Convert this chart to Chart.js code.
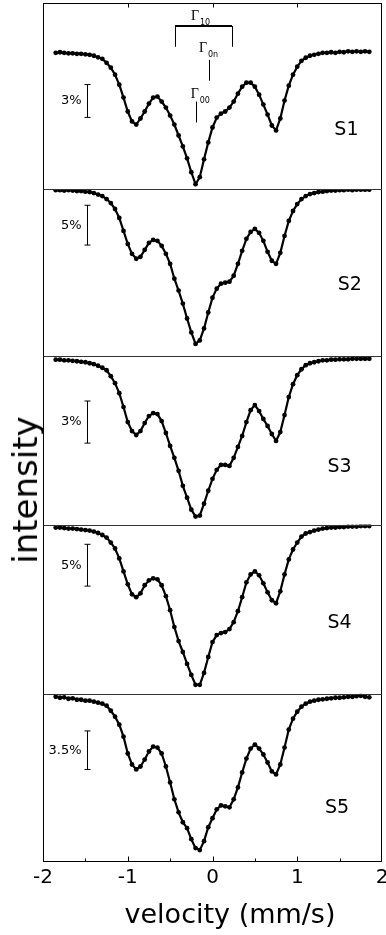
<!DOCTYPE html>
<html><head><meta charset="utf-8">
<script src="https://cdn.jsdelivr.net/npm/chart.js@4.4.1/dist/chart.umd.min.js"></script>
<style>
html,body{margin:0;padding:0;background:#fff;overflow:hidden}
#wrap{position:relative;width:386px;height:935px}
#c{position:absolute;left:0;top:0}
.t{position:absolute;font-family:'DejaVu Sans';color:#000;white-space:nowrap;line-height:1}
#ylab{left:25px;top:489.5px;font-size:34px;transform:translate(-50%,-50%) rotate(-90deg)}
#xlab{left:230px;top:900px;font-size:27px;transform:translateX(-50%)}
</style></head><body>
<div id="wrap"><canvas id="c" width="386" height="935"></canvas>
<div class="t" id="ylab">intensity</div><div class="t" id="xlab">velocity (mm/s)</div></div>
<script>
// ---- data (relative transmission, %) ----
const velocity = [-1.85,-1.8,-1.75,-1.7,-1.65,-1.6,-1.55,-1.5,-1.45,-1.4,-1.35,-1.3,-1.25,-1.2,-1.15,-1.1,-1.05,-1,-0.95,-0.9,-0.85,-0.8,-0.75,-0.7,-0.65,-0.6,-0.55,-0.5,-0.45,-0.4,-0.35,-0.3,-0.25,-0.2,-0.15,-0.1,-0.05,0,0.05,0.1,0.15,0.2,0.25,0.3,0.35,0.4,0.45,0.5,0.55,0.6,0.65,0.7,0.75,0.8,0.85,0.9,0.95,1,1.05,1.1,1.15,1.2,1.25,1.3,1.35,1.4,1.45,1.5,1.55,1.6,1.65,1.7,1.75,1.8,1.85];
const s1 = [100.0,100.05,100.0,99.95,99.95,99.91,99.91,99.86,99.82,99.73,
 99.59,99.45,99.09,98.64,98.0,97.09,95.91,94.64,93.73,93.45,
 94.0,94.64,95.36,95.91,96.0,95.55,95.0,94.27,93.45,92.45,
 91.45,90.36,89.09,88.0,88.64,90.27,91.82,93.18,94.09,94.45,
 94.64,95.0,95.55,96.27,96.91,97.27,97.27,96.91,96.18,95.27,
 94.36,93.36,92.91,94.0,95.64,97.0,98.0,98.73,99.27,99.55,
 99.73,99.82,99.91,100.0,100.0,100.05,100.0,100.09,100.05,100.14,
 100.09,100.14,100.09,100.14,100.09];
const s2 = [100,100,99.94,100,99.94,99.88,99.88,99.81,99.75,99.63,
 99.44,99.25,98.88,98.38,97.63,96.5,94.88,93.25,92.0,91.38,
 91.63,92.5,93.38,93.75,93.63,93.0,92.0,90.75,88.88,87.38,
 85.75,83.88,82.13,80.69,81.13,82.63,84.63,86.5,87.63,88.25,
 88.38,88.5,89.25,90.75,92.38,93.88,94.75,95.13,94.63,93.63,
 92.25,91.13,90.75,92.13,94.25,96.13,97.38,98.25,98.88,99.25,
 99.5,99.63,99.75,99.81,99.88,99.94,99.94,100,100,100.06,
 100,100.06,100.06,100.06,100.06];
const s3 = [100.04,100.04,100,100,99.96,99.93,99.89,99.86,99.79,99.72,
 99.61,99.47,99.29,98.87,98.37,97.66,96.67,95.6,94.96,94.68,
 94.96,95.53,96.03,96.24,96.17,95.67,94.82,93.9,93.05,92.13,
 91.06,90.21,89.36,88.87,88.94,89.79,90.71,91.56,92.2,92.55,
 92.55,92.48,93.05,93.83,94.61,95.6,96.45,96.81,96.38,95.82,
 95.32,94.75,94.26,94.89,96.1,97.38,98.3,98.94,99.36,99.65,
 99.79,99.86,99.93,100,100,100.04,100.04,100.07,100.07,100.07,
 100.11,100.11,100.11,100.11,100.11];
const s4 = [100,100,99.94,99.88,99.88,99.82,99.76,99.7,99.64,99.52,
 99.35,99.11,98.81,98.21,97.5,96.31,94.76,93.21,92.02,91.67,
 92.14,93.1,93.69,93.93,93.81,93.1,91.79,90.12,88.1,86.43,
 85.12,83.69,82.38,81.19,81.19,82.62,84.52,86.31,87.14,87.38,
 87.5,87.86,88.69,90.0,91.67,93.45,94.4,94.76,94.29,93.33,
 92.26,91.31,90.95,92.38,94.4,96.19,97.38,98.21,98.93,99.29,
 99.46,99.64,99.76,99.88,99.94,100,100,100.06,100.06,100.12,
 100.12,100.12,100.18,100.18,100.18];
const s5 = [100,99.91,99.95,99.82,99.86,99.73,99.73,99.64,99.64,99.55,
 99.46,99.37,99.19,98.73,98.19,97.47,96.38,94.85,93.85,93.4,
 93.67,94.3,95.03,95.48,95.39,94.85,93.67,92.22,90.69,89.51,
 88.61,88.07,87.07,86.26,86.08,86.89,88.16,88.97,89.78,90.14,
 90.05,89.96,90.69,91.77,93.13,94.39,95.3,95.66,95.3,94.76,
 94.03,93.22,92.95,93.85,95.39,97.02,98.01,98.64,99.1,99.37,
 99.55,99.64,99.73,99.77,99.82,99.86,99.91,99.91,99.95,100,
 100,100.05,100.09,100,99.95];
const seriesNames = ['S1','S2','S3','S4','S5'];
const scaleBarLabels = ['3%','5%','3%','5%','3.5%'];
const scaleBarSizes = [3,5,3,5,3.5];
const xTickValues = [-2,-1,0,1,2];
const xMinorTicks = [-1.5,-0.5,0.5,1.5];
const series = [s1,s2,s3,s4,s5];

// ---- layout (not data) ----
const panelRange = [[87.55,104.55],[79.125,100.125],[88.3,100.28],[80.12,100.36],[85.0,100.27]];
const panelWeight = [187,168,169,170,169];
const barTop = [97.1,98.1,97.1,98.0,96.9];
const barX = -1.475;
const namePos = [[1.58,92.9],[1.62,88.06],[1.5,92.4],[1.5,88.57],[1.47,89.9]];
const gammaText = [
  {sub:'10', x:-0.254, y:103.0},
  {sub:'0n', x:-0.159, y:100.12},
  {sub:'00', x:-0.257, y:95.88}
];

const scales = {
  x: {
    type:'linear', position:'bottom', min:-2, max:2,
    afterBuildTicks: s => { s.ticks = xTickValues.map(v => ({value:v})); },
    afterFit: s => { s.paddingRight = 0; s.paddingLeft = 0; },
    ticks:{font:{family:'DejaVu Sans', size:20}, color:'#000', padding:4, maxRotation:0, autoSkip:false},
    grid:{display:false, drawTicks:false}, border:{display:false}
  }
};
series.forEach((s,i) => {
  scales['y'+(i+1)] = {
    type:'linear', position:'left', stack:'panels', stackWeight:panelWeight[i], weight:5-i,
    min:panelRange[i][0], max:panelRange[i][1],
    ticks:{display:false}, grid:{display:false, drawTicks:false}, border:{display:false}
  };
});

function line(ctx,x0,y0,x1,y1){ctx.beginPath();ctx.moveTo(x0,y0);ctx.lineTo(x1,y1);ctx.stroke();}

const decor = {
  id:'decor',
  afterDraw(chart){
    const {ctx, chartArea:a, scales:sc} = chart;
    const X = sc.x;
    ctx.save();
    ctx.strokeStyle='#000'; ctx.fillStyle='#000'; ctx.lineWidth=1;
    const L=Math.round(a.left)+0.5, R=Math.round(a.right)-0.5, T=Math.round(a.top)+0.5, B=Math.round(a.bottom)-0.5;
    ctx.strokeRect(L,T,R-L,B-T);
    ctx.strokeStyle='#333';
    for(let i=1;i<5;i++){ const yy=Math.round(sc['y'+i].bottom)+0.5; line(ctx,L,yy,R,yy); }
    ctx.strokeStyle='#000';
    xTickValues.slice(1,-1).forEach(v => {
      const px=Math.round(X.getPixelForValue(v))+0.5;
      line(ctx,px,T,px,T+4); line(ctx,px,B,px,B-5);
    });
    xMinorTicks.forEach(v => {
      const px=Math.round(X.getPixelForValue(v))+0.5;
      line(ctx,px,B,px,B-3);
    });
    // scale bars
    ctx.font='13px "DejaVu Sans"'; ctx.textAlign='right'; ctx.textBaseline='middle';
    series.forEach((s,i) => {
      const Y=sc['y'+(i+1)];
      const px=Math.round(X.getPixelForValue(barX))+0.5;
      const y0=Y.getPixelForValue(barTop[i]), y1=Y.getPixelForValue(barTop[i]-scaleBarSizes[i]);
      line(ctx,px,y0,px,y1); line(ctx,px-3,y0,px+3,y0); line(ctx,px-3,y1,px+3,y1);
      ctx.fillText(scaleBarLabels[i], px-6, (y0+y1)/2);
    });
    // sample names
    ctx.font='19px "DejaVu Sans"'; ctx.textAlign='center';
    seriesNames.forEach((n,i) => {
      const Y=sc['y'+(i+1)];
      ctx.fillText(n, X.getPixelForValue(namePos[i][0]), Y.getPixelForValue(namePos[i][1]));
    });
    // Gamma annotations in S1
    const Y1=sc.y1;
    const bx0=X.getPixelForValue(-0.442), bx1=X.getPixelForValue(0.230);
    const by=Y1.getPixelForValue(102.45), byl=Y1.getPixelForValue(100.55);
    ctx.lineWidth=2; line(ctx,bx0,by,bx1,by);
    ctx.lineWidth=1;
    line(ctx,Math.round(bx0)+0.5,by,Math.round(bx0)+0.5,byl);
    line(ctx,Math.round(bx1)+0.5,by,Math.round(bx1)+0.5,byl);
    let gx=Math.round(X.getPixelForValue(-0.045))+0.5;
    line(ctx,gx,Y1.getPixelForValue(99.36),gx,Y1.getPixelForValue(97.45));
    gx=Math.round(X.getPixelForValue(-0.195))+0.5;
    line(ctx,gx,Y1.getPixelForValue(95.55),gx,Y1.getPixelForValue(93.64));
    ctx.textAlign='left'; ctx.textBaseline='alphabetic';
    gammaText.forEach(g => {
      const tx=X.getPixelForValue(g.x), ty=Y1.getPixelForValue(g.y);
      ctx.font='14px "Liberation Serif"'; ctx.fillText('\u0393', tx, ty);
      ctx.font='8px "DejaVu Sans"'; ctx.fillText(g.sub, tx+9, ty+5);
    });
    ctx.restore();
  }
};

new Chart(document.getElementById('c'), {
  type:'scatter',
  data:{ datasets: series.map((s,i) => ({
    label:seriesNames[i],
    data: velocity.map((v,j) => ({x:v, y:s[j]})),
    yAxisID:'y'+(i+1),
    showLine:true, borderColor:'#000', borderWidth:2.2, backgroundColor:'#000',
    pointRadius:2.4, pointBorderWidth:0, pointHoverRadius:2.4
  }))},
  options:{
    responsive:false, animation:false, devicePixelRatio:1, events:[],
    layout:{padding:{left:43,right:4,top:3,bottom:41}},
    plugins:{legend:{display:false}, tooltip:{enabled:false}},
    scales
  },
  plugins:[decor]
});
</script></body></html>
